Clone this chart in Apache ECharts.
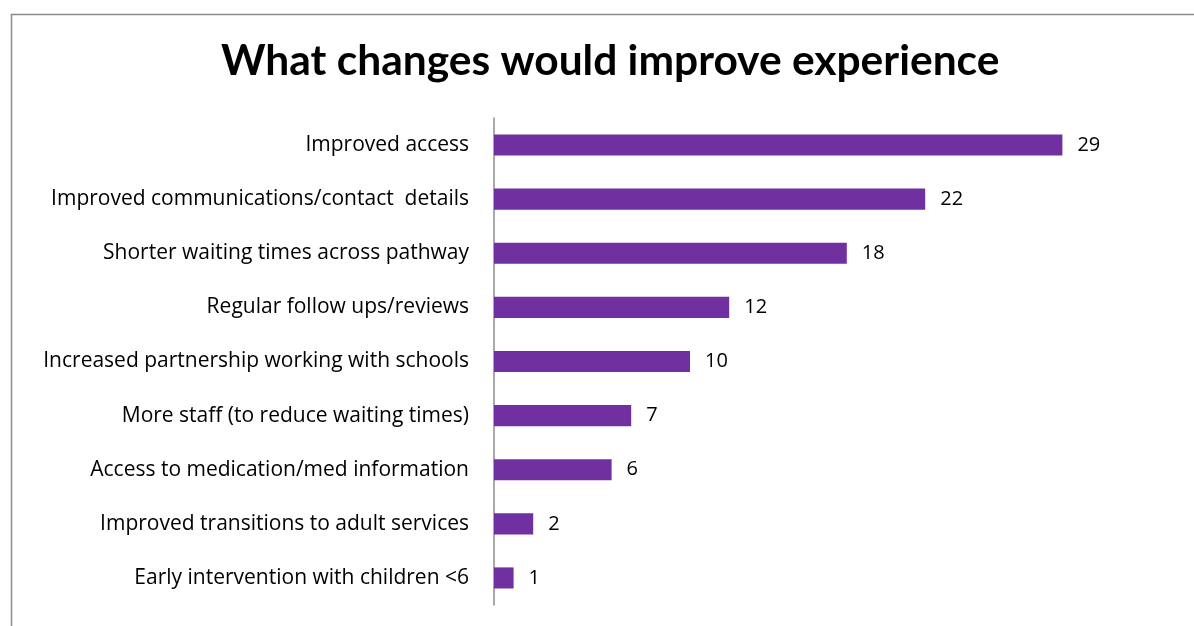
<!DOCTYPE html>
<html>
<head>
<meta charset="utf-8">
<script src="https://cdn.jsdelivr.net/npm/echarts@6/dist/echarts.min.js"></script>
<style>
  html, body { margin: 0; padding: 0; background: #fff; }
  #chart { width: 1194px; height: 626px; }
</style>
</head>
<body>
<div id="chart"></div>
<script>
// Survey responses: suggested changes and how many people mentioned each
const categories = [
  'Improved access',
  'Improved communications/contact  details',
  'Shorter waiting times across pathway',
  'Regular follow ups/reviews',
  'Increased partnership working with schools',
  'More staff (to reduce waiting times)',
  'Access to medication/med information',
  'Improved transitions to adult services',
  'Early intervention with children <6'
];
const counts = [29, 22, 18, 12, 10, 7, 6, 2, 1];

const TITLE_FONT = 'Lato, "Open Sans", sans-serif';
const FONT = '"Open Sans", Lato, sans-serif';
const chart = echarts.init(document.getElementById('chart'), null, { renderer: 'canvas' });

chart.setOption({
  backgroundColor: '#ffffff',
  animation: false,
  graphic: [{
    type: 'rect',
    left: 9, top: 12,
    shape: { width: 1300, height: 800 },
    style: { fill: 'none', stroke: '#8c8c8c', lineWidth: 1.5 },
    silent: true
  }],
  title: {
    text: 'What changes would improve experience',
    left: 216,
    top: 35,
    textStyle: { fontFamily: TITLE_FONT, fontWeight: 'bold', fontSize: 42.5, color: '#000' }
  },
  grid: { left: 494, right: 112, top: 118, bottom: 21, containLabel: false },
  xAxis: {
    type: 'value',
    min: 0, max: 30,
    show: false
  },
  yAxis: {
    type: 'category',
    inverse: true,
    data: categories,
    axisLine: { show: true, lineStyle: { color: '#8c8c8c', width: 1.5 } },
    axisTick: { show: false },
    axisLabel: { fontFamily: FONT, fontSize: 21, color: '#000', margin: 25 }
  },
  series: [{
    type: 'bar',
    data: counts,
    barWidth: '39%',
    itemStyle: { color: '#7030A0' },
    label: {
      show: true,
      position: 'right',
      distance: 15,
      fontFamily: FONT,
      fontSize: 20,
      color: '#000'
    }
  }]
});
</script>
</body>
</html>
